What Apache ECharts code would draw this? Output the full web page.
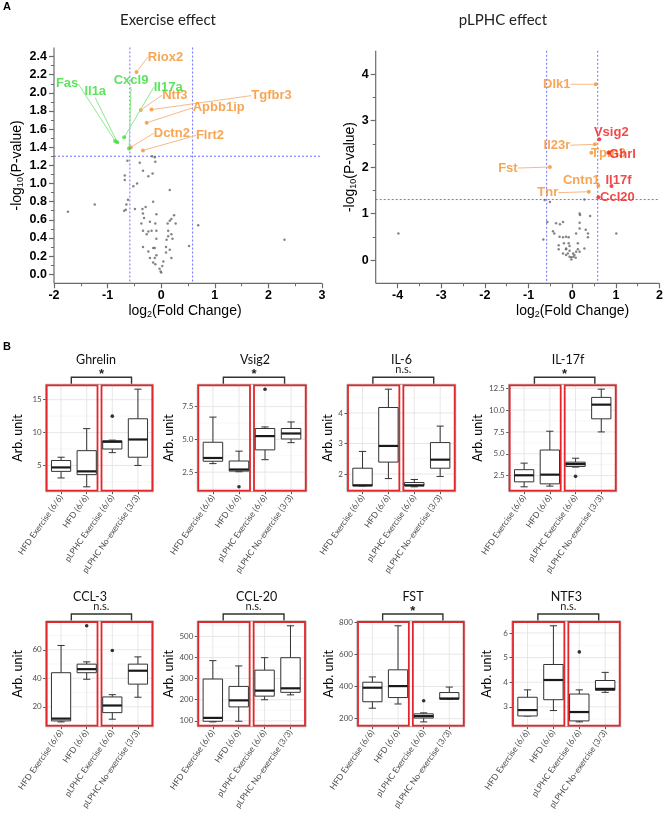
<!DOCTYPE html>
<html><head><meta charset="utf-8">
<script src="https://cdn.jsdelivr.net/npm/echarts@6/dist/echarts.min.js"></script>
<style>html,body{margin:0;padding:0;background:#fff}#c{width:666px;height:818px}</style>
</head><body><div id="c"></div>
<script>
// ================= PANEL A DATA =================
const fcCut = 0.585, pCut = 1.301;
const exXTicks = [-2, -1, 0, 1, 2, 3];
const exYTicks = ['0.0','0.2','0.4','0.6','0.8','1.0','1.2','1.4','1.6','1.8','2.0','2.2','2.4'];
const plXTicks = [-4, -3, -2, -1, 0, 1, 2];
const plYTicks = ['0','1','2','3','4'];

const exGreyPts = [[-0.63,1.25],[-0.17,1.30],[-0.12,1.29],[-0.40,1.23],[-0.11,1.24],[-0.34,1.14],[-0.16,1.11],[-0.24,1.08],
 [-0.68,1.09],[-0.68,1.04],[-0.45,1.00],[-0.52,0.97],[0.16,0.93],[-0.62,0.82],[-0.65,0.77],[-0.15,0.80],[-0.35,0.72],
 [-0.29,0.74],[-0.66,0.71],[-0.69,0.70],[-1.24,0.77],[-1.74,0.69],[-0.49,0.72],[-0.34,0.67],[-0.09,0.66],[0.24,0.65],
 [-0.32,0.62],[-0.21,0.58],[-0.37,0.56],[-0.11,0.56],[0.16,0.59],[0.19,0.61],[0.27,0.56],[0.12,0.56],[-0.34,0.48],
 [-0.18,0.48],[-0.24,0.47],[-0.09,0.48],[0.13,0.48],[0.19,0.44],[-0.27,0.44],[0.13,0.42],[-0.09,0.39],[0.10,0.38],
 [0.21,0.39],[-0.34,0.30],[-0.15,0.29],[-0.12,0.29],[0.09,0.30],[0.16,0.27],[-0.24,0.25],[0.09,0.24],[-0.09,0.21],
 [-0.21,0.18],[-0.12,0.18],[0.19,0.18],[-0.15,0.13],[-0.11,0.11],[0.04,0.14],[0.02,0.09],[-0.03,0.06],[0.00,0.02],
 [-0.01,0.03],[0.69,0.54],[0.52,0.31],[2.30,0.38]];
const exOrangeNames = ['Riox2','Ntf3','Tgfbr3','Apbb1ip','Dctn2','Flrt2'];
const exOrangePts = [[-0.46,2.23],[-0.38,1.81],[-0.18,1.815],[-0.27,1.67],[-0.567,1.40],[-0.34,1.365]];
const exGreenNames = ['Fas','Il1a','Cxcl9','Il17a'];
const exGreenPts = [[-0.86,1.47],[-0.82,1.455],[-0.60,1.385],[-0.69,1.51]];

const plGreyPts = [[-3.98,0.57],[-0.63,1.29],[-0.51,1.25],[0.28,1.30],[-0.57,0.82],[-0.66,0.44],[1.01,0.57],
 [0.17,1.00],[0.18,0.97],[-0.37,0.79],[-0.21,0.82],[-0.28,0.77],[0.17,0.80],[0.41,0.95],[0.17,0.68],[0.31,0.65],
 [-0.44,0.62],[-0.41,0.57],[0.09,0.57],[0.36,0.57],[-0.21,0.49],[-0.29,0.50],[-0.14,0.50],[-0.08,0.49],[0.36,0.49],
 [-0.19,0.36],[-0.08,0.36],[-0.31,0.32],[-0.06,0.30],[0.13,0.36],[-0.14,0.25],[-0.31,0.23],[-0.14,0.23],[-0.06,0.20],
 [0.13,0.23],[0.28,0.25],[-0.21,0.14],[-0.10,0.14],[0.02,0.14],[0.09,0.18],[0.17,0.18],[-0.06,0.07],[-0.02,0.06],
 [0.03,0.07],[0.08,0.05],[-0.02,0.01],[-0.14,0.11],[0.05,0.11]];
const plOrangeNames = ['Dlk1','Il23r','Tpm3','Fst','Cntn1','Tnr'];
const plOrangePts = [[0.54,3.78],[0.52,2.49],[0.44,2.31],[-0.51,2.00],[0.60,1.60],[0.38,1.47]];
const plRedNames = ['Vsig2','Ghrl','Il17f','Ccl20'];
const plRedPts = [[0.62,2.60],[0.83,2.31],[0.90,1.59],[0.60,1.35]];

// ================= PANEL B DATA =================
const groups = ['HFD Exercise (6/6)', 'HFD (6/6)', 'pLPHC Exercise (6/6)', 'pLPHC No-exercise (3/3)'];
// each box: [lower whisker, Q1, median, Q3, upper whisker]
const ghrelinBox = [[3.1,4.1,4.7,5.75,6.25],[1.75,3.6,4.1,7.25,10.6],[6.95,7.5,8.6,8.75,8.85],[5.0,6.25,8.95,12.1,16.6]];
const ghrelinOut = [[2,12.5]];
const vsig2Box = [[3.15,3.33,3.58,4.78,6.7],[2.53,2.58,2.7,3.35,4.1],[3.45,4.2,5.25,5.83,5.95],[4.75,5.03,5.45,5.83,6.33]];
const vsig2Out = [[1,1.38],[2,8.83]];
const il6Box = [[1.61,1.61,1.63,2.19,2.74],[1.85,2.39,2.92,4.18,4.78],[1.58,1.61,1.63,1.72,1.82],[1.92,2.19,2.47,3.03,3.57]];
const il6Out = [];
const il17fBox = [[1.22,1.79,2.54,3.18,3.93],[1.3,1.56,2.61,5.43,7.58],[3.48,3.55,3.82,4.04,4.49],[7.5,9.0,10.62,11.45,12.39]];
const il17fOut = [[2,2.42]];
const ccl3Box = [[9.4,10.1,11.7,43.9,63],[39.3,43.9,46.4,49.9,51.5],[11.3,15.9,20.9,26.9,28.5],[26.7,35.9,45.3,49.9,55]];
const ccl3Out = [[1,76.8],[2,59.5]];
const ccl20Box = [[95,98,114,298,385],[98,166,197,263,360],[200,217,243,340,399],[223,235,254,399,550]];
const ccl20Out = [];
const fstBox = [[265,305,392,426,459],[291,331,402,503,776],[180,204,216,230,236],[321,321,325,362,396]];
const fstOut = [[2,311]];
const ntf3Box = [[2.63,2.63,2.87,3.39,3.69],[2.85,3.29,4.09,4.72,6.29],[2.39,2.43,2.79,3.52,3.69],[3.59,3.67,3.73,4.07,4.4]];
const ntf3Out = [[2,5.23]];

const panelNames = ['Ghrelin','Vsig2','IL-6','IL-17f','CCL-3','CCL-20','FST','NTF3'];
const panelSig = ['*','*','n.s.','*','n.s.','n.s.','*','n.s.'];
const panelBoxes = [ghrelinBox, vsig2Box, il6Box, il17fBox, ccl3Box, ccl20Box, fstBox, ntf3Box];
const panelOut = [ghrelinOut, vsig2Out, il6Out, il17fOut, ccl3Out, ccl20Out, fstOut, ntf3Out];
const panelTicks = [['5','10','15'],['2.5','5.0','7.5'],['2','3','4'],['2.5','5.0','7.5','10.0','12.5'],
 ['20','40','60'],['100','200','300','400','500'],['200','400','600','800'],['3','4','5','6']];

// ================= LAYOUT / STYLE =================
const ORANGE = '#f5902c', GREEN = '#33dd33', RED = '#ee1c1c';
const exOrangeOff = [[29,-15],[34,-15],[120,-14],[72,-15],[41,-14],[67,-15]];
const exGreenOff = [[-48,-57],[-22,-51],[2,-68],[44,-50]];
const plOrangeOff = [[-39,0],[-38,1],[17,1],[-42,1],[-17,-5],[-41,1]];
const plOrangeLine = [true,true,false,true,false,true];
const plRedOff = [[12,-7],[14,2],[7,-6],[19,0]];

const boxLayout = [
 {left:45.7, top:384.3, width:107.6, height:107.4, nameGap:21, titleX:96},
 {left:197.3, top:384.3, width:109.4, height:107.4, nameGap:22, titleX:255},
 {left:347, top:384.3, width:108.7, height:107.4, nameGap:12, titleX:401.5},
 {left:508.7, top:384.3, width:108, height:107.4, nameGap:24, titleX:568},
 {left:45.7, top:621, width:107.6, height:105.7, nameGap:21, titleX:90},
 {left:197.3, top:621, width:108.7, height:105.7, nameGap:22, titleX:256.7},
 {left:357, top:621, width:107.7, height:105.7, nameGap:17, titleX:413},
 {left:512, top:621, width:108.7, height:105.7, nameGap:19, titleX:566.3}
];

const AX = '#6b6b6b', CUT = '#6f6fff';
const boldTick = {color:'#000', fontWeight:'bold', fontSize:12.5, fontFamily:'Liberation Sans'};
const nameStyle = {color:'#000', fontSize:14, fontFamily:'Liberation Sans', lineHeight:16,
  rich:{s:{fontSize:9, fontFamily:'Liberation Sans', verticalAlign:'bottom', lineHeight:10}}};

const grids = [], xAxes = [], yAxes = [], series = [], graphics = [];

function hline(x1, x2, y, c, w, dash) { return {type:'line', shape:{x1:x1, y1:y, x2:x2, y2:y}, style:{stroke:c, lineWidth:w, lineDash:dash || null}}; }
function vline(x, y1, y2, c, w, dash) { return {type:'line', shape:{x1:x, y1:y1, x2:x, y2:y2}, style:{stroke:c, lineWidth:w, lineDash:dash || null}}; }

function volcAxis(xmin, xmax, xTicks, ymin, ymax, yTicks, ySplit, xSplit, yGap, xNamePad) {
  const gi = grids.length - 1;
  xAxes.push({gridIndex:gi, type:'value', min:xmin, max:xmax, splitNumber:xSplit, position:'bottom',
    axisLine:{show:false, onZero:false}, splitLine:{show:false},
    axisTick:{show:true, customValues:xTicks, length:5, lineStyle:{color:AX, width:1.2}},
    minorTick:{show:true, splitNumber:2, length:3, lineStyle:{color:AX}},
    axisLabel:Object.assign({customValues:xTicks, margin:6}, boldTick),
    name:'log{s|2}(Fold Change)', nameLocation:'middle', nameGap:17,
    nameTextStyle:Object.assign({padding:xNamePad}, nameStyle)});
  const yv = yTicks.map(Number);
  yAxes.push({gridIndex:gi, type:'value', min:ymin, max:ymax, splitNumber:ySplit, position:'left',
    axisLine:{show:false, onZero:false}, splitLine:{show:false},
    axisTick:{show:true, customValues:yv, length:5, lineStyle:{color:AX, width:1.2}},
    minorTick:{show:true, splitNumber:2, length:3, lineStyle:{color:AX}},
    axisLabel:Object.assign({customValues:yv, margin:7,
      formatter:function(v){ const i = yv.indexOf(v); return i >= 0 ? yTicks[i] : ''; }}, boldTick),
    name:'-log{s|10}(P-value)', nameLocation:'middle', nameGap:yGap, nameTextStyle:nameStyle});
  // axis frame (left + bottom) and the significance cut-off lines, placed through the axes' scales
  series.push({type:'custom', xAxisIndex:gi, yAxisIndex:gi, clip:false, silent:true, z:1,
    data:[[xmin, ymin]],
    renderItem:function(params, api){
      const cs = params.coordSys;
      const T = cs.y, B = cs.y + cs.height, L = cs.x, R = cs.x + cs.width;
      return {type:'group', children:[
        vline(api.coord([-fcCut, ymin])[0], T, B, CUT, 1, [2,2]),
        vline(api.coord([fcCut, ymin])[0], T, B, CUT, 1, [2,2]),
        hline(L, R, api.coord([xmin, pCut])[1], CUT, 1, [2,2]),
        vline(L, T, B, AX, 1.2),
        hline(L, R, B, AX, 1.2)]};
    }});
}

function labeled(gi, pts, names, color, offs, lines, lineColor, z) {
  return {type:'scatter', xAxisIndex:gi, yAxisIndex:gi, symbolSize:4, z:z,
    itemStyle:{color:color},
    data:pts.map((p,i)=>({value:p, name:names[i],
      label:{show:true, position:'inside', formatter:names[i], color:color, fontWeight:'bold',
        fontSize:13, fontFamily:'Liberation Sans'},
      labelLine:{show:lines[i], lineStyle:{color:lineColor, width:1}}})),
    labelLayout:function(params){ const o = offs[params.dataIndex]; return {dx:o[0], dy:o[1]}; }};
}

// ---- A1: Exercise effect
grids.push({left:54, top:47.5, width:268, height:235.8});
volcAxis(-2, 3, exXTicks, -0.1, 2.5, exYTicks, 13, 5, 29, [0,6,0,0]);
series.push({type:'scatter', xAxisIndex:0, yAxisIndex:0, symbolSize:2.5, itemStyle:{color:'#666'},
  data:exGreyPts, z:2});
series.push(labeled(0, exOrangePts, exOrangeNames, ORANGE, exOrangeOff, exOrangePts.map(()=>true), '#f7b98a', 3));
series.push(labeled(0, exGreenPts, exGreenNames, GREEN, exGreenOff, exGreenPts.map(()=>true), '#8ee88e', 4));

// ---- A2: pLPHC effect
grids.push({left:375.7, top:50.8, width:284, height:232.5});
volcAxis(-4.5, 2, plXTicks, -0.5, 4.5, plYTicks, 5, 7, 10, [0,0,0,110]);
series.push({type:'scatter', xAxisIndex:1, yAxisIndex:1, symbolSize:2.5, itemStyle:{color:'#666'},
  data:plGreyPts, z:2});
series.push(labeled(1, plOrangePts, plOrangeNames, ORANGE, plOrangeOff, plOrangeLine, '#f7b98a', 3));
series.push(labeled(1, plRedPts, plRedNames, RED, plRedOff, plRedPts.map(()=>false), RED, 4));

graphics.push({type:'text', x:3, y:1, style:{text:'A', font:'bold 11px Liberation Sans', fill:'#000'}});
graphics.push({type:'text', x:3, y:341, style:{text:'B', font:'bold 11px Liberation Sans', fill:'#000'}});
graphics.push({type:'text', x:168, y:20, style:{text:'Exercise effect', font:'15px Lato', fill:'#222', textAlign:'center', textVerticalAlign:'middle'}});
graphics.push({type:'text', x:503, y:20, style:{text:'pLPHC effect', font:'15px Lato', fill:'#222', textAlign:'center', textVerticalAlign:'middle'}});

// ================= PANEL B =================
function makeDecor(pi, range) {
  return function(params, api) {
    const cs = params.coordSys;
    const L = cs.x, R = cs.x + cs.width, T = cs.y, B = cs.y + cs.height;
    const ticks = panelTicks[pi].map(Number);
    const step = ticks[1] - ticks[0];
    const ch = [];
    for (let v = ticks[0] - step / 2; v <= range[1]; v += step) {
      if (v >= range[0]) ch.push(hline(L, R, api.coord([0, v])[1], '#f2f2f2', 0.6));
    }
    ticks.forEach(v => ch.push(hline(L, R, api.coord([0, v])[1], '#e4e4e4', 0.9)));
    groups.forEach((g, i) => ch.push(vline(api.coord([i, range[0]])[0], T, B, '#e4e4e4', 0.9)));
    const xm = api.coord([1.5, range[0]])[0];
    ch.push({type:'rect', shape:{x:L + 1, y:T + 1, width:xm - 2 - (L + 1), height:cs.height - 2},
      style:{fill:'none', stroke:'#e3262b', lineWidth:1.8}});
    ch.push({type:'rect', shape:{x:xm + 2, y:T + 1, width:R - 1 - (xm + 2), height:cs.height - 2},
      style:{fill:'none', stroke:'#e3262b', lineWidth:1.8}});
    const bx1 = api.coord([0.4, range[1]])[0], bx2 = api.coord([2.75, range[1]])[0];
    const by = T - 7;
    ch.push({type:'polyline', shape:{points:[[bx1, T - 0.5], [bx1, by], [bx2, by], [bx2, T - 0.5]]},
      style:{fill:'none', stroke:'#333', lineWidth:1.4}});
    const star = panelSig[pi] === '*';
    ch.push({type:'text', x:(bx1 + bx2) / 2, y: star ? T - 10 : T - 15,
      style:{text:panelSig[pi], font: star ? 'bold 13px Liberation Sans' : '11px Lato', fill:'#222',
        textAlign:'center', textVerticalAlign:'middle'}});
    return {type:'group', children:ch};
  };
}

function renderBox(params, api) {
  const x = api.value(0), lo = api.value(1), q1 = api.value(2), med = api.value(3), q3 = api.value(4), hi = api.value(5);
  const hw = 0.375, cw = 0.14;
  const xl = api.coord([x - hw, med])[0], xr = api.coord([x + hw, med])[0];
  const xc = api.coord([x, med])[0];
  const cl = api.coord([x - cw, med])[0], cr = api.coord([x + cw, med])[0];
  const yLo = api.coord([x, lo])[1], yQ1 = api.coord([x, q1])[1], yMed = api.coord([x, med])[1];
  const yQ3 = api.coord([x, q3])[1], yHi = api.coord([x, hi])[1];
  const c = '#333';
  return {type:'group', children:[
    vline(xc, yHi, yQ3, c, 1), vline(xc, yQ1, yLo, c, 1),
    hline(cl, cr, yHi, c, 1), hline(cl, cr, yLo, c, 1),
    {type:'rect', shape:{x:xl, y:yQ3, width:xr - xl, height:yQ1 - yQ3}, style:{fill:'#fff', stroke:c, lineWidth:1}},
    hline(xl, xr, yMed, '#1a1a1a', 2.2)
  ]};
}

panelNames.forEach((nm, pi) => {
  const lay = boxLayout[pi];
  const gi = grids.length;
  const boxes = panelBoxes[pi], outs = panelOut[pi];
  const vals = [];
  boxes.forEach(b => b.forEach(v => vals.push(v)));
  outs.forEach(o => vals.push(o[1]));
  const dmin = Math.min.apply(null, vals), dmax = Math.max.apply(null, vals);
  const pad = (dmax - dmin) * 0.05;
  const range = [dmin - pad, dmax + pad];
  const yv = panelTicks[pi].map(Number);
  grids.push({left:lay.left, top:lay.top, width:lay.width, height:lay.height, show:true,
    borderColor:'#a0a0a0', borderWidth:1, backgroundColor:'#fff'});
  xAxes.push({gridIndex:gi, type:'value', min:-0.6, max:3.6,
    axisLine:{show:false, onZero:false}, splitLine:{show:false},
    axisTick:{show:true, customValues:[0,1,2,3], length:2.5, lineStyle:{color:'#555'}},
    axisLabel:{customValues:[0,1,2,3], rotate:55, margin:4, fontSize:8.5, fontFamily:'Lato', color:'#4d4d4d',
      formatter:function(v){ return groups[Math.round(v)]; }}});
  yAxes.push({gridIndex:gi, type:'value', min:range[0], max:range[1],
    axisLine:{show:false, onZero:false}, splitLine:{show:false},
    axisTick:{show:true, customValues:yv, length:2.5, lineStyle:{color:'#555'}},
    axisLabel:{customValues:yv, margin:4, fontSize:8, fontFamily:'Lato', color:'#4d4d4d',
      formatter:function(v){ const i = yv.indexOf(v); return i >= 0 ? panelTicks[pi][i] : ''; }},
    name:'Arb. unit', nameLocation:'middle', nameGap:lay.nameGap,
    nameTextStyle:{fontSize:12.5, fontFamily:'Lato', color:'#000'}});
  series.push({type:'custom', xAxisIndex:gi, yAxisIndex:gi, clip:false, z:1, silent:true,
    data:[[1.5, range[0]]], renderItem:makeDecor(pi, range)});
  series.push({type:'custom', xAxisIndex:gi, yAxisIndex:gi, z:2, silent:true,
    encode:{x:0, y:[1,2,3,4,5]},
    data:boxes.map((b, i) => [i].concat(b)), renderItem:renderBox});
  series.push({type:'scatter', xAxisIndex:gi, yAxisIndex:gi, z:3, symbolSize:3.6,
    itemStyle:{color:'#000'}, data:outs});
  graphics.push({type:'text', x:lay.titleX, y:lay.top - 24.3,
    style:{text:nm, font:'12.5px Lato', fill:'#111', textAlign:'center', textVerticalAlign:'middle'}});
});

const chart = echarts.init(document.getElementById('c'), null, {width:666, height:818});
chart.setOption({animation:false, backgroundColor:'#fff', grid:grids, xAxis:xAxes, yAxis:yAxes,
  series:series, graphic:graphics});
</script></body></html>
